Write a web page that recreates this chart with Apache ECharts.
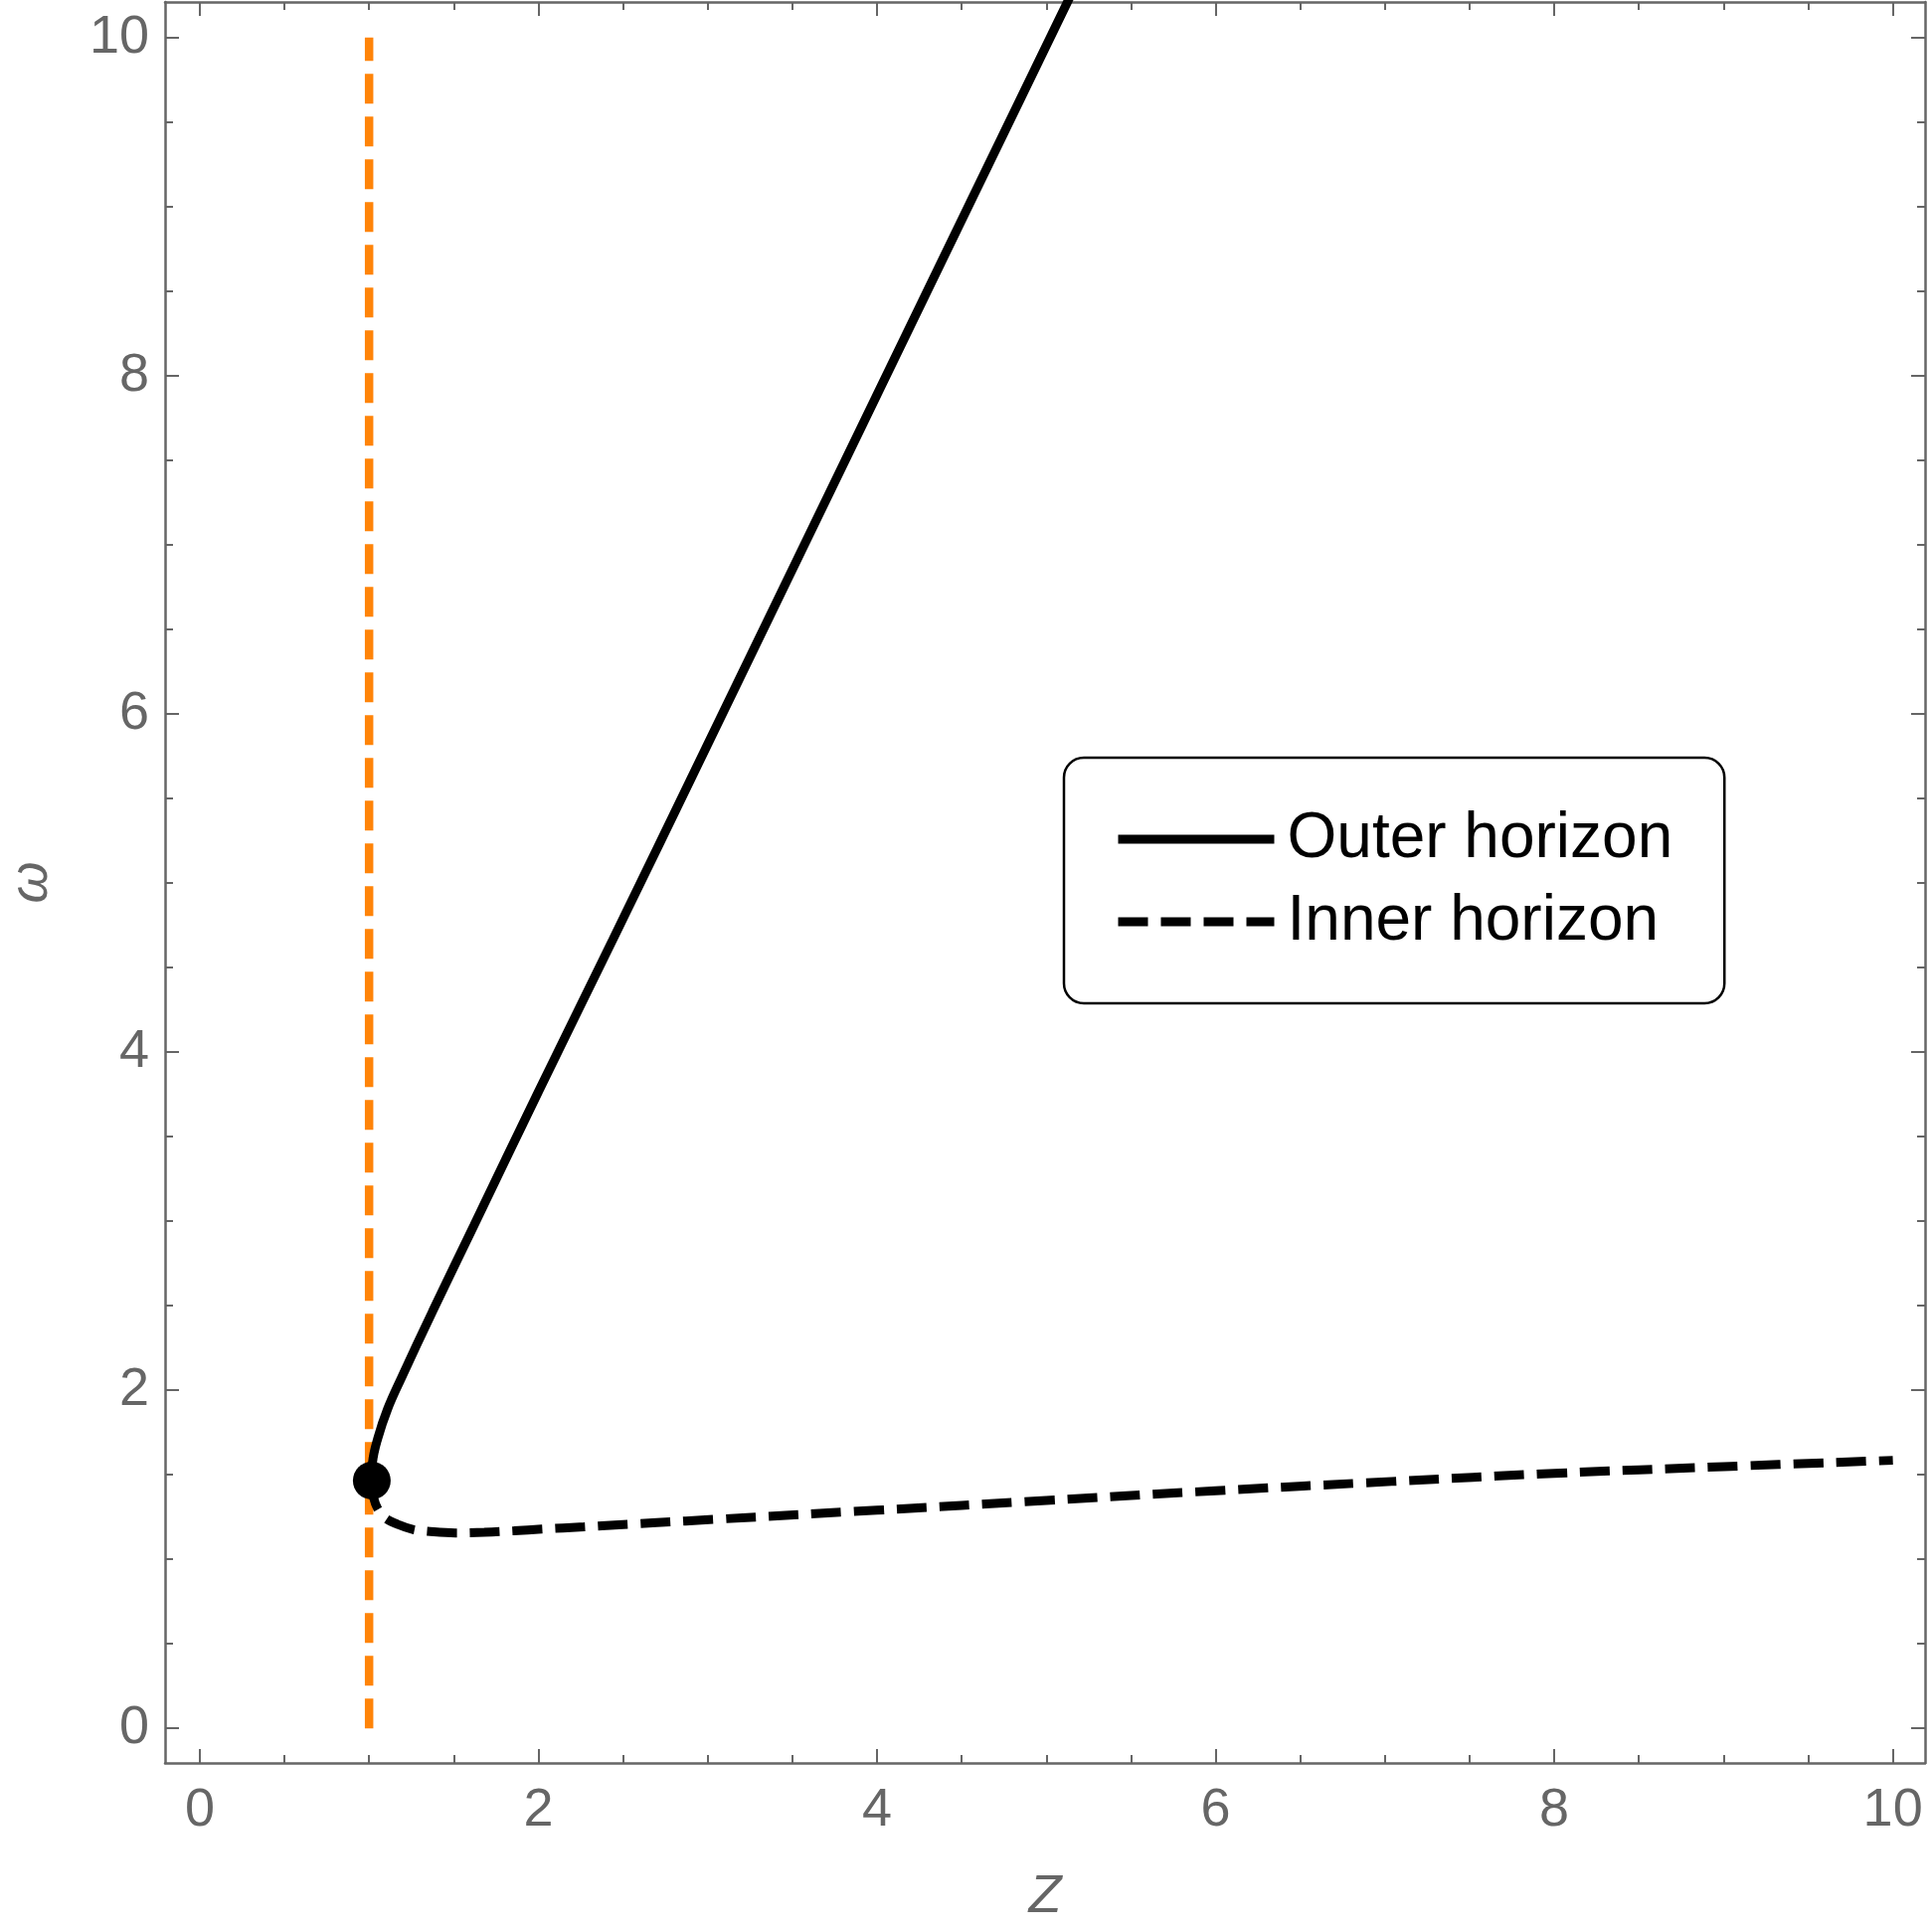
<!DOCTYPE html>
<html>
<head>
<meta charset="utf-8">
<script src="https://cdn.jsdelivr.net/npm/echarts@6/dist/echarts.min.js"></script>
<style>
  html, body { margin: 0; padding: 0; background: #fff; }
  #chart { width: 1943px; height: 1943px; }
</style>
</head>
<body>
<div id="chart"></div>
<script>
// tick values (same on both axes)
const tickLabels = [0, 2, 4, 6, 8, 10]
const minorTicks = [0, 0.5, 1, 1.5, 2, 2.5, 3, 3.5, 4, 4.5, 5, 5.5, 6, 6.5, 7, 7.5, 8, 8.5, 9, 9.5, 10]

// [Z, omega]
const outerHorizon = [
  [1.016, 1.465], [1.02, 1.57], [1.051, 1.714], [1.11, 1.89], [1.19, 2.07],
  [1.375, 2.466], [1.62, 2.975], [2.0, 3.765], [2.44, 4.665], [3.0, 5.82],
  [4.0, 7.887], [5.125, 10.21], [5.2, 10.36]
]
const innerHorizon = [
  [1.016, 1.465], [1.028, 1.359], [1.057, 1.288], [1.098, 1.241], [1.169, 1.206],
  [1.257, 1.176], [1.345, 1.165], [1.51, 1.155], [1.68, 1.159], [1.856, 1.168],
  [2.02, 1.178], [2.27, 1.192], [2.53, 1.207], [2.87, 1.226], [4, 1.29],
  [5, 1.347], [6, 1.405], [7.04, 1.46], [8, 1.508], [9, 1.548], [10, 1.585]
]
const extremalPoint = [[1.016, 1.465]]
const boundaryLine = [[1, 0], [1, 10]]

const xMin = -0.205
const xMax = 10.19
const yMin = -0.205
const yMax = 10.21

const gray = '#666'
const font = 'Liberation Sans, Arial, sans-serif'

function axis (position, min, max, values, len, opts) {
    return Object.assign({
        type: 'value',
        position: position,
        min: min,
        max: max,
        axisLine: { show: false, onZero: false },
        axisTick: {
            show: true,
            inside: true,
            length: len,
            customValues: values,
            lineStyle: { color: gray, width: 2 }
        },
        axisLabel: { show: false, customValues: values },
        splitLine: { show: false }
    }, opts || {})
}

const frameLine = { show: true, onZero: false, lineStyle: { color: gray, width: 2.5 } }
const labelStyle = { show: true, customValues: tickLabels, fontSize: 54, color: gray, fontFamily: font }

const chart = echarts.init(document.getElementById('chart'))
chart.setOption({
    animation: false,
    backgroundColor: '#fff',
    textStyle: { fontFamily: font },
    grid: {
        left: 166,
        top: 2,
        width: 1770,
        height: 1771,
        containLabel: false,
        outerBoundsMode: 'none'
    },
    xAxis: [
        axis('bottom', xMin, xMax, tickLabels, 14, {
            axisLine: frameLine,
            axisLabel: Object.assign({ margin: 21 }, labelStyle),
            name: 'Z',
            nameLocation: 'middle',
            nameGap: 108,
            nameTextStyle: { fontSize: 54, color: gray, fontStyle: 'italic', fontFamily: font }
        }),
        axis('bottom', xMin, xMax, minorTicks, 8),
        axis('top', xMin, xMax, tickLabels, 14, { axisLine: frameLine }),
        axis('top', xMin, xMax, minorTicks, 8)
    ],
    yAxis: [
        axis('left', yMin, yMax, tickLabels, 14, {
            axisLine: frameLine,
            axisLabel: Object.assign({ margin: 16 }, labelStyle),
            name: 'ω',
            nameLocation: 'middle',
            nameGap: 107,
            nameTextStyle: { fontSize: 54, color: gray, fontStyle: 'italic', fontFamily: font }
        }),
        axis('left', yMin, yMax, minorTicks, 8),
        axis('right', yMin, yMax, tickLabels, 14, { axisLine: frameLine }),
        axis('right', yMin, yMax, minorTicks, 8)
    ],
    legend: {
        data: ['Outer horizon', 'Inner horizon'],
        orient: 'vertical',
        left: 1070,
        top: 762,
        padding: [50, 52, 50, 50],
        itemGap: 19,
        itemWidth: 157,
        itemHeight: 20,
        selectedMode: false,
        backgroundColor: '#fff',
        borderColor: '#000',
        borderWidth: 2.5,
        borderRadius: 20,
        itemStyle: { opacity: 0 },
        lineStyle: { width: 9, color: '#000', opacity: 1 },
        textStyle: { fontSize: 64, color: '#000', fontFamily: font, padding: [0, 0, 0, 8] }
    },
    series: [
        {
            name: 'Boundary',
            type: 'line',
            data: boundaryLine,
            symbol: 'none',
            lineStyle: { color: '#ff8409', width: 8.5, type: [30, 13] },
            z: 2
        },
        {
            name: 'Outer horizon',
            type: 'line',
            data: outerHorizon,
            symbol: 'none',
            smooth: 0.4,
            itemStyle: { color: '#000' },
            lineStyle: { color: '#000', width: 9 },
            z: 3
        },
        {
            name: 'Inner horizon',
            type: 'line',
            data: innerHorizon,
            symbol: 'none',
            smooth: 0.4,
            itemStyle: { color: '#000' },
            lineStyle: { color: '#000', width: 9, type: [30, 13] },
            z: 3
        },
        {
            name: 'Extremal',
            type: 'scatter',
            data: extremalPoint,
            symbolSize: 38,
            itemStyle: { color: '#000', opacity: 1 },
            z: 4
        }
    ]
})
</script>
</body>
</html>
